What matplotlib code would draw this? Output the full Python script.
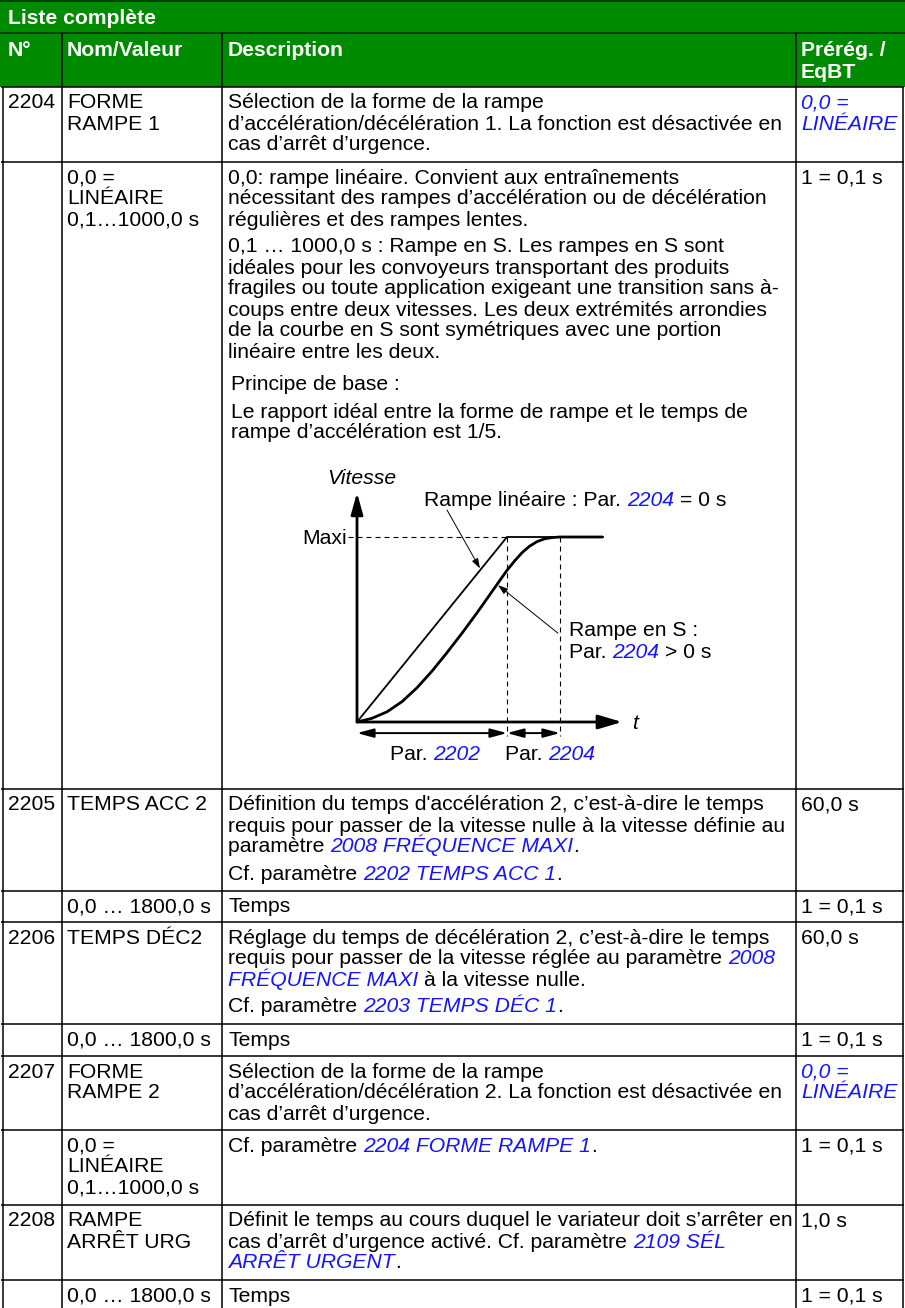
import re
import matplotlib
matplotlib.use('Agg')
import matplotlib.pyplot as plt
from matplotlib.patches import Rectangle
from matplotlib.font_manager import FontProperties

plt.rcParams['font.family'] = ['Liberation Sans', 'DejaVu Sans']

# ------------------------------------------------------------------ data
title = "Liste complète"
header_cols = ["N°", "Nom/Valeur", "Description", "Prérég. /\nEqBT"]

row_ids = ["2204", "", "2205", "", "2206", "", "2207", "", "2208", ""]

row_names = [
    ["FORME", "RAMPE 1"],
    ["0,0 =", "LINÉAIRE", "0,1…1000,0 s"],
    ["TEMPS ACC 2"],
    ["0,0 … 1800,0 s"],
    ["TEMPS DÉC2"],
    ["0,0 … 1800,0 s"],
    ["FORME", "RAMPE 2"],
    ["0,0 =", "LINÉAIRE", "0,1…1000,0 s"],
    ["RAMPE", "ARRÊT URG"],
    ["0,0 … 1800,0 s"],
]

# {...} = blue italic cross reference, None = paragraph gap, "\t" = small indent
row_descs = [
    ["Sélection de la forme de la rampe",
     "d’accélération/décélération 1. La fonction est désactivée en",
     "cas d’arrêt d’urgence."],
    ["0,0: rampe linéaire. Convient aux entraînements",
     "nécessitant des rampes d’accélération ou de décélération",
     "régulières et des rampes lentes.",
     None,
     "0,1 … 1000,0 s : Rampe en S. Les rampes en S sont",
     "idéales pour les convoyeurs transportant des produits",
     "fragiles ou toute application exigeant une transition sans à-",
     "coups entre deux vitesses. Les deux extrémités arrondies",
     "de la courbe en S sont symétriques avec une portion",
     "linéaire entre les deux.",
     None, None,
     "\tPrincipe de base :",
     None,
     "\tLe rapport idéal entre la forme de rampe et le temps de",
     "\trampe d’accélération est 1/5."],
    ["Définition du temps d'accélération 2, c’est-à-dire le temps",
     "requis pour passer de la vitesse nulle à la vitesse définie au",
     "paramètre {2008 FRÉQUENCE MAXI}.",
     None,
     "Cf. paramètre {2202 TEMPS ACC 1}."],
    ["Temps"],
    ["Réglage du temps de décélération 2, c’est-à-dire le temps",
     "requis pour passer de la vitesse réglée au paramètre {2008}",
     "{FRÉQUENCE MAXI} à la vitesse nulle.",
     None,
     "Cf. paramètre {2203 TEMPS DÉC 1}."],
    ["Temps"],
    ["Sélection de la forme de la rampe",
     "d’accélération/décélération 2. La fonction est désactivée en",
     "cas d’arrêt d’urgence."],
    ["Cf. paramètre {2204 FORME RAMPE 1}."],
    ["Définit le temps au cours duquel le variateur doit s’arrêter en",
     "cas d’arrêt d’urgence activé. Cf. paramètre {2109 SÉL}",
     "{ARRÊT URGENT}."],
    ["Temps"],
]

row_defaults = [
    ["{0,0 =}", "{LINÉAIRE}"],
    ["1 = 0,1 s"],
    ["60,0 s"],
    ["1 = 0,1 s"],
    ["60,0 s"],
    ["1 = 0,1 s"],
    ["{0,0 =}", "{LINÉAIRE}"],
    ["1 = 0,1 s"],
    ["1,0 s"],
    ["1 = 0,1 s"],
]

# ramp diagram (normalised: time in units of Par. 2202, speed in units of Maxi)
T_ACC = 1.0          # Par. 2202
T_S = 0.353          # Par. 2204
V_MAX = 1.0
T_END = 1.64
lin_t = [0.0, T_ACC, T_END]
lin_v = [0.0, V_MAX, V_MAX]
s_t = [0.0, 0.1, 0.2, 0.3, 0.4, 0.5, 0.6, 0.7, 0.8, 0.9, 1.0,
       1.05, 1.1, 1.15, 1.2, 1.25, 1.3, 1.353, 1.64]
s_v = [0.0, 0.02, 0.055, 0.11, 0.185, 0.275, 0.375, 0.48, 0.59, 0.705, 0.82,
       0.87, 0.915, 0.95, 0.975, 0.99, 0.997, 1.0, 1.0]

# ------------------------------------------------------------------ layout
W, H = 905, 1308
GREEN = '#008a00'
BLUE = '#1414ff'
FS = 15.25
LINE = 21.0
PARA = 6.0
TITLE_H = 33
HEAD_B = 87
row_tops = [87, 162, 789, 891, 922, 1024, 1056, 1130, 1205, 1280]
col_x = [62, 222, 796]
x_id, x_name, x_desc, x_def = 8, 67, 228, 801

fig = plt.figure(figsize=(W / 100, H / 100), dpi=100)
ax = fig.add_axes([0, 0, 1, 1])
ax.set_xlim(0, W)
ax.set_ylim(H, 0)
ax.axis('off')
renderer = fig.canvas.get_renderer()


def fprop(italic=False, bold=False, size=FS):
    return FontProperties(family=['Liberation Sans', 'DejaVu Sans'], size=size,
                          style='italic' if italic else 'normal',
                          weight='bold' if bold else 'normal')


def twidth(s, italic=False, bold=False, size=FS):
    fp = fprop(italic, bold, size)
    w1, _, _ = renderer.get_text_width_height_descent('|' + s + '|', fp, ismath=False)
    w0, _, _ = renderer.get_text_width_height_descent('||', fp, ismath=False)
    return w1 - w0


def rich(x, y, line, color='black', bold=False, size=FS, target=None):
    target = target or ax
    for p in re.split(r'(\{[^}]*\})', line):
        if not p:
            continue
        link = p.startswith('{')
        s = p[1:-1] if link else p
        lead = len(s) - len(s.lstrip(' '))
        x += twidth(s[:lead], link, bold, size) if lead else 0
        s = s.lstrip(' ')
        if s:
            target.text(x, y, s, fontproperties=fprop(link, bold, size),
                        color=BLUE if link else color, va='baseline', ha='left')
            x += twidth(s, link, bold, size)
    return x


def block(x, top, lines, color='black', bold=False):
    y = top + 21.5
    for ln in lines:
        if ln is None:
            y += PARA
            continue
        xx = x
        if ln.startswith('\t'):
            ln = ln[1:]
            xx += 3
        rich(xx, y, ln, color=color, bold=bold)
        y += LINE


# header
ax.add_patch(Rectangle((0, 0), W, HEAD_B, facecolor=GREEN, edgecolor='none'))
ax.text(x_id, 24.5, title, fontproperties=fprop(bold=True), color='white', va='baseline')
for cx, lab in zip([x_id, x_name, x_desc, x_def], header_cols):
    for k, part in enumerate(lab.split('\n')):
        ax.text(cx, 56.5 + k * LINE, part, fontproperties=fprop(bold=True),
                color='white', va='baseline')

lw = 1.1
ax.hlines([0.6, TITLE_H], 0, W, color='#0a2a0a', lw=lw)
ax.vlines(col_x, TITLE_H, HEAD_B, color='black', lw=lw)

# grid
ax.hlines(row_tops, 1, W - 1, color='black', lw=lw)
ax.vlines(col_x, HEAD_B, H, color='black', lw=lw)
ax.vlines([2.5, W - 2], HEAD_B, H, color='black', lw=lw)

# rows
for i, top in enumerate(row_tops):
    if row_ids[i]:
        ax.text(x_id, top + 21.5, row_ids[i], fontproperties=fprop(), va='baseline')
    block(x_name, top, row_names[i])
    block(x_desc, top, row_descs[i])
    block(x_def, top, row_defaults[i])

# ------------------------------------------------------------------ diagram
OX, OY, SX, SY = 357, 722, 150.0, 185.0
X0, X1, Y0, Y1 = 300, 740, 460, 770
dax = fig.add_axes([X0 / W, 1 - Y1 / H, (X1 - X0) / W, (Y1 - Y0) / H])
dax.set_xlim((X0 - OX) / SX, (X1 - OX) / SX)
dax.set_ylim((OY - Y1) / SY, (OY - Y0) / SY)
dax.axis('off')
dax.patch.set_visible(False)

dash = (0, (4.5, 3.6))
dax.plot([-0.06, T_ACC], [V_MAX, V_MAX], color='black', lw=0.8, ls=dash)
dax.plot([T_ACC, T_ACC], [V_MAX, -0.075], color='black', lw=0.8, ls=dash)
dax.plot([T_ACC + T_S, T_ACC + T_S], [V_MAX, -0.075], color='black', lw=0.8, ls=dash)

dax.plot(lin_t, lin_v, color='black', lw=1.3, solid_joinstyle='miter')
dax.plot(s_t, s_v, color='black', lw=2.0, solid_joinstyle='round', solid_capstyle='butt')

axis_style = dict(color='black', lw=2.0, shrinkA=0, shrinkB=0, mutation_scale=10)
dax.annotate('', xy=(0, 1.24), xytext=(0, 0),
             arrowprops=dict(arrowstyle='-|>,head_length=1.3,head_width=0.36', **axis_style))
dax.annotate('', xy=(1.767, 0), xytext=(0, 0),
             arrowprops=dict(arrowstyle='-|>,head_length=1.45,head_width=0.43', **axis_style))

dim_style = dict(arrowstyle='<|-|>,head_length=1.0,head_width=0.27', color='black', lw=1.4,
                 shrinkA=0, shrinkB=0, mutation_scale=10)
dax.annotate('', xy=(T_ACC, -0.06), xytext=(0, -0.06), arrowprops=dim_style)
dax.annotate('', xy=(T_ACC + T_S, -0.06), xytext=(T_ACC, -0.06), arrowprops=dim_style)

lead_style = dict(arrowstyle='-|>,head_length=0.6,head_width=0.2', color='black', lw=0.7,
                  shrinkA=0, shrinkB=0, mutation_scale=10)
dax.annotate('', xy=(0.82, 0.83), xytext=(0.6, 1.146), arrowprops=lead_style)
dax.annotate('', xy=(0.94, 0.74), xytext=(1.34, 0.48), arrowprops=lead_style)

# diagram labels
ax.text(327, 484, "Vitesse", fontproperties=fprop(italic=True), va='baseline')
rich(424, 505.5, "Rampe linéaire : Par. {2204} = 0 s")
ax.text(347, 544.5, "Maxi", fontproperties=fprop(), va='baseline', ha='right')
ax.text(632, 729, "t", fontproperties=fprop(italic=True), va='baseline')
rich(569, 635.5, "Rampe en S :")
rich(569, 657.5, "Par. {2204} > 0 s")
rich(390, 759.5, "Par. {2202}")
rich(505, 759.5, "Par. {2204}")

fig.savefig('out.png', dpi=100)
